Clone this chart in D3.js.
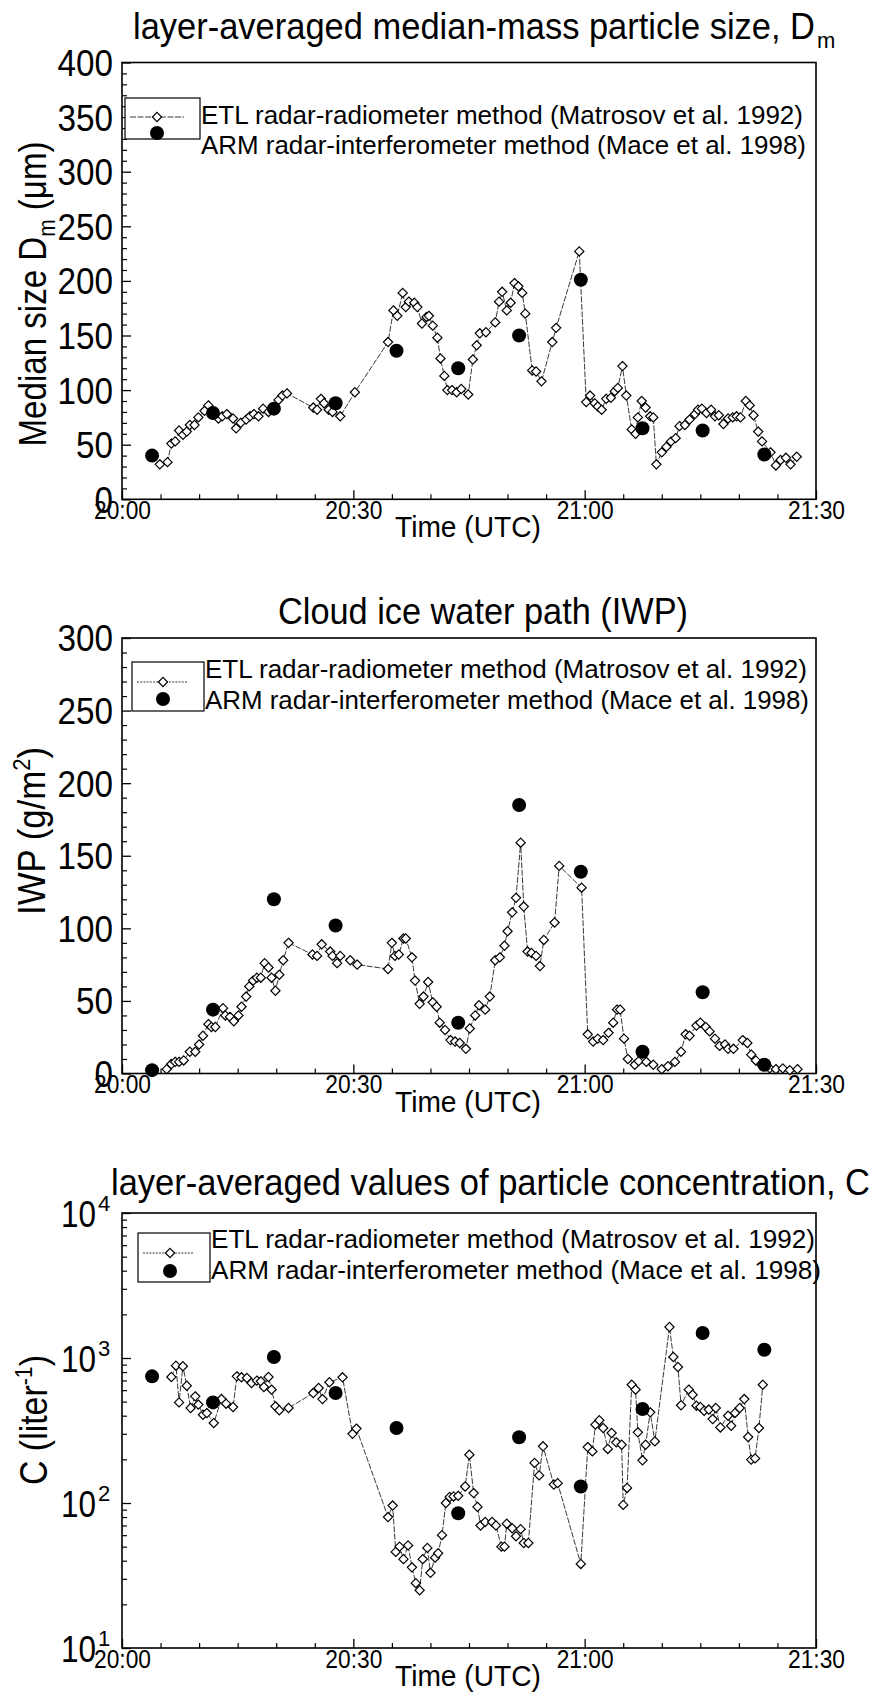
<!DOCTYPE html>
<head>
  <meta charset="utf-8">
  <script src="https://d3js.org/d3.v7.min.js"></script>
  <style>
    body { margin:0; background:#fff; }
    text { font-family: "Liberation Sans Narrow", "Liberation Sans", Arial, Helvetica, sans-serif; fill:#000; }
  </style>
</head>
<body>
<svg width="873" height="1699" id="fig"></svg>
<script>
// legend texts and time axis
var etlLabel = "ETL radar-radiometer method (Matrosov et al. 1992)";
var armLabel = "ARM radar-interferometer method (Mace et al. 1998)";
var timeTicks = [0, 30, 60, 90];          // minutes after 20:00
var timeLabels = ["20:00", "20:30", "21:00", "21:30"];

// ARM retrievals (same times in every panel)
var armTime = [3.9, 11.8, 19.7, 27.7, 35.6, 43.6, 51.5, 59.5, 67.5, 75.3, 83.3];

// panel 1: median size Dm (um)
var dmTicks = [0, 50, 100, 150, 200, 250, 300, 350, 400];
var dmTime = [4.9,5.9,6.4,6.9,7.4,7.9,8.4,8.8,9.4,9.9,10.7,11.2,12.5,13.0,13.6,14.4,14.8,15.4,16.1,16.6,17.1,17.7,18.3,19.0,20.3,20.8,21.4,
  24.8,25.3,25.8,26.2,26.8,27.3,28.3,30.2,34.5,35.2,35.7,36.4,36.8,37.2,37.9,38.3,38.9,39.5,39.8,40.3,40.9,41.3,41.8,42.2,42.8,43.4,44.0,44.9,
  45.5,46.0,46.4,47.2,48.4,48.9,49.3,49.9,50.4,50.9,51.4,51.9,52.3,53.2,53.7,54.4,55.8,56.3,59.3,60.2,60.7,61.3,61.7,62.2,62.8,63.4,63.9,64.3,
  64.9,65.4,66.1,66.6,66.9,67.4,67.9,68.5,68.9,69.3,70.0,70.6,71.2,71.8,72.3,73.0,73.6,74.3,74.7,75.2,75.8,76.4,76.9,77.4,78.0,78.6,79.2,79.7,
  80.2,80.9,81.4,81.9,82.5,83.0,84.1,84.8,85.4,86.1,86.7,87.5];
var dmEtl = [32,34,51,53,63,59,62,68,68,75,81,86,74,76,78,74,65,70,73,76,78,76,83,80,91,95,97,
  84,82,92,88,82,80,76,98,144,173,168,189,176,181,180,176,161,167,168,159,148,129,113,100,100,98,101,96,
  128,141,152,153,162,181,190,173,180,198,195,189,170,118,117,108,144,157,227,89,95,88,85,82,92,93,99,102,
  122,95,64,60,75,90,84,76,75,32,43,48,53,56,67,68,73,78,82,83,79,82,76,77,69,74,75,76,
  75,90,86,77,62,53,43,31,36,38,32,39];
var dmArm = [40, 79, 83, 88, 136, 120, 150, 201, 65, 63, 41];

// panel 2: ice water path (g/m2)
var iwpTicks = [0, 50, 100, 150, 200, 250, 300];
var iwpTime = [5.8,6.4,6.9,7.4,8.0,8.8,9.5,10.0,10.5,11.2,11.6,12.1,13.1,13.4,14.0,14.5,15.1,15.5,16.1,16.5,17.0,17.5,18.0,18.5,19.0,19.4,19.9,
  20.4,20.9,21.6,24.7,25.3,25.9,27.0,27.3,27.9,28.3,29.6,30.5,34.5,35.0,35.4,35.9,36.5,36.8,37.6,38.0,38.6,39.1,39.7,40.3,40.8,41.2,41.9,42.6,
  43.2,43.8,44.6,45.1,45.8,46.3,47.1,47.7,48.4,49.0,49.6,50.0,50.6,51.1,51.7,52.1,52.6,53.1,53.7,54.2,54.7,56.1,56.7,59.6,60.4,61.1,61.7,62.4,
  63.1,63.7,64.2,64.6,65.1,65.6,66.5,67.0,68.0,68.9,70.0,70.8,71.7,72.5,73.1,73.6,74.5,75.0,75.7,76.2,76.9,77.5,78.2,78.6,79.3,80.5,81.1,81.6,
  82.2,82.9,84.0,84.8,85.7,86.6,87.6];
var iwpEtl = [3,6.5,8,8,9,15,15,20,26,34,32,32,45,40,39,36,40,46,53,60,64,66,66,76,73,66,57,
  68,78,90,82,81,89,84,81,76,81,78,75,72,90,81,82,93,93,80,64,48,53,63,49,46,35,30,23,
  22,21,17,31,40,47,44,53,78,80,88,98,111,121,159,115,84,83,81,74,92,104,143,128,27,22,24,23,
  28,35,44,44,24,10,6,8.5,8,6,3,5,8,15,27,26,33,35,32,29,24,19,20,17,17,23,21,13,
  9,6,3.5,3,3.5,2.3,3];
var iwpArm = [2.3, 44, 120, 102, null, 35, 185, 139, 15, 56, 6];

// panel 3: particle concentration (1/liter)
var cTicks = [10, 100, 1000, 10000];
var cExp = ["1", "2", "3", "4"];
var cTime = [6.4,7.0,7.4,7.9,8.4,8.9,9.5,9.9,10.5,11.0,11.9,12.9,13.5,14.4,14.9,15.5,16.2,16.8,17.5,18.0,18.4,19.0,19.4,19.9,20.4,21.6,
  24.8,25.5,26.0,26.9,28.6,29.9,30.4,34.5,35.1,35.5,36.0,36.5,37.1,37.6,38.1,38.6,39.0,39.6,40.0,40.6,41.0,41.5,42.0,42.5,43.0,43.6,44.5,45.05,
  45.6,46.1,46.5,47.1,48.0,48.5,49.2,49.6,49.9,50.6,51.1,51.7,52.1,52.7,53.5,54.1,54.6,56.0,56.5,59.5,60.4,61.0,61.4,61.9,62.4,63.0,63.5,64.1,
  64.8,65.0,65.5,66.1,66.6,66.9,67.5,67.9,68.5,69.1,71.0,71.5,72.1,72.5,73.5,74.0,74.5,75.0,75.5,76.1,76.6,77.0,77.6,78.6,79.0,79.5,80.1,80.7,
  81.2,81.6,82.1,82.6,83.1];
var cEtl = [740,885,494,877,644,452,544,477,406,417,356,521,484,459,747,736,728,672,698,690,631,740,605,464,436,452,
  573,621,521,680,736,300,326,80,96,46,50,41,51,36,28,25,41,49,33,42,45,60,100,110,111,112,130,215,
  117,94,70,74,74,70,50,50,72,67,59,66,53,53,189,155,246,134,137,38,243,227,347,372,329,236,304,262,
  252,97,127,654,605,307,197,252,422,266,1637,1016,867,472,605,558,469,459,433,441,379,452,332,400,341,418,452,521,
  285,199,203,329,654];
var cArm = [747, 494, 1016, 573, 329, 85, 284, 130, 445, 1486, 1140];

var svg = d3.select("#fig");
var left = 122, right = 816;
var x = d3.scaleLinear().domain([0, 90]).range([left, right]);
var diamond = "M0,-4.6L4.6,0L0,4.6L-4.6,0Z";

function drawPanel(p) {
  var g = svg.append("g");
  var y = p.log
    ? d3.scaleLog().domain([p.ticks[0], p.ticks[p.ticks.length - 1]]).range([p.bottom, p.top])
    : d3.scaleLinear().domain([0, p.ticks[p.ticks.length - 1]]).range([p.bottom, p.top]);

  // minor y ticks
  g.append("g").attr("transform", "translate(" + left + ",0)")
    .call(d3.axisLeft(y).tickValues(p.minor).tickSizeInner(-5).tickSizeOuter(0).tickFormat(""))
    .call(s => s.select(".domain").remove())
    .selectAll("line").attr("stroke-width", 1.2);

  // major y ticks
  var ya = g.append("g").attr("transform", "translate(" + left + ",0)")
    .call(d3.axisLeft(y).tickValues(p.ticks).tickSizeInner(-9).tickSizeOuter(0).tickPadding(9)
      .tickFormat(p.log ? "" : d3.format("d")));
  ya.select(".domain").remove();
  ya.selectAll("line").attr("stroke-width", 1.3);
  ya.selectAll("text").attr("font-size", 36).attr("font-family", null).attr("dy", "0.36em")
    .attr("textLength", d => String(d).length * 18.5).attr("lengthAdjust", "spacingAndGlyphs");

  if (p.log) {
    p.ticks.forEach(function(v, i) {
      g.append("text").attr("x", 96).attr("y", y(v) + 14)
        .attr("text-anchor", "end").attr("font-size", 36)
        .attr("textLength", 35).attr("lengthAdjust", "spacingAndGlyphs").text("10");
      g.append("text").attr("x", 98).attr("y", y(v) - 2)
        .attr("font-size", 22).text(cExp[i]);
    });
  }

  // x ticks
  g.append("g").attr("transform", "translate(0," + p.bottom + ")")
    .call(d3.axisBottom(x).tickValues(d3.range(5, 90, 5).filter(d => d % 30)).tickSizeInner(-5).tickSizeOuter(0).tickFormat(""))
    .call(s => s.select(".domain").remove())
    .selectAll("line").attr("stroke-width", 1.2);
  var xa = g.append("g").attr("transform", "translate(0," + p.bottom + ")")
    .call(d3.axisBottom(x).tickValues(timeTicks).tickSizeInner(-9).tickSizeOuter(0).tickPadding(2)
      .tickFormat((d, i) => timeLabels[i]));
  xa.select(".domain").remove();
  xa.selectAll("line").attr("stroke-width", 1.3);
  xa.selectAll("text").attr("font-size", 25).attr("font-family", null)
    .attr("textLength", 57).attr("lengthAdjust", "spacingAndGlyphs");

  // frame
  g.append("rect").attr("x", left).attr("y", p.top)
    .attr("width", right - left).attr("height", p.bottom - p.top)
    .attr("fill", "none").attr("stroke", "#000").attr("stroke-width", 1.6);

  // ETL series
  var etl = d3.zip(p.time, p.etl);
  g.append("path").datum(etl)
    .attr("d", d3.line().x(d => x(d[0])).y(d => y(d[1])))
    .attr("fill", "none").attr("stroke", "#222").attr("stroke-width", 0.9)
    .attr("stroke-dasharray", "6,1.5");
  g.selectAll(".etl").data(etl).enter().append("path")
    .attr("class", "etl").attr("d", diamond)
    .attr("transform", d => "translate(" + x(d[0]) + "," + y(d[1]) + ")")
    .attr("fill", "#fff").attr("stroke", "#000").attr("stroke-width", 1.2);

  // ARM series
  g.selectAll(".arm").data(d3.zip(armTime, p.arm).filter(d => d[1] != null)).enter().append("circle")
    .attr("class", "arm").attr("cx", d => x(d[0])).attr("cy", d => y(d[1])).attr("r", 7)
    .attr("fill", "#000");

  // legend
  var L = p.legend;
  g.append("rect").attr("x", L.x).attr("y", L.y).attr("width", L.w).attr("height", L.h)
    .attr("fill", "#fff").attr("stroke", "#000").attr("stroke-width", 1.2);
  g.append("line").attr("x1", L.x + 5).attr("x2", L.x + L.w - 16).attr("y1", L.ly).attr("y2", L.ly)
    .attr("stroke", "#222").attr("stroke-width", 0.9).attr("stroke-dasharray", p.legendDash);
  g.append("path").attr("d", diamond).attr("transform", "translate(" + L.mx + "," + L.ly + ")")
    .attr("fill", "#fff").attr("stroke", "#000").attr("stroke-width", 1.2);
  g.append("circle").attr("cx", L.mx).attr("cy", L.cy).attr("r", 7).attr("fill", "#000");
  g.append("text").attr("x", L.x + L.w + 1).attr("y", L.t1).attr("font-size", 25)
    .attr("textLength", L.len1).attr("lengthAdjust", "spacingAndGlyphs").text(etlLabel);
  g.append("text").attr("x", L.x + L.w + 1).attr("y", L.t2).attr("font-size", 25)
    .attr("textLength", L.len2).attr("lengthAdjust", "spacingAndGlyphs").text(armLabel);

  // title (optional subscript drawn as its own text)
  g.append("text").attr("x", p.title.x).attr("y", p.title.y).attr("font-size", 36)
    .attr("textLength", p.title.len).attr("lengthAdjust", "spacingAndGlyphs").text(p.title.text);
  if (p.title.sub) {
    g.append("text").attr("x", p.title.x + p.title.len + 2).attr("y", p.title.y + 9)
      .attr("font-size", 22).text(p.title.sub);
  }

  // x label
  g.append("text").attr("x", 468).attr("y", p.bottom + 38).attr("text-anchor", "middle")
    .attr("font-size", 30).attr("textLength", 146).attr("lengthAdjust", "spacingAndGlyphs")
    .text("Time (UTC)");

  // y label
  var yl = g.append("text").attr("transform", "translate(" + p.ylab.x + "," + p.ylab.y + ") rotate(-90)")
    .attr("text-anchor", "middle").attr("font-size", 38)
    .attr("textLength", p.ylab.len).attr("lengthAdjust", "spacingAndGlyphs");
  p.ylab.parts.forEach(function(s) {
    var ts = yl.append("tspan").text(s[0]);
    if (s[1]) ts.attr("dy", s[1]);
    if (s[2]) ts.attr("font-size", s[2]);
  });
}

drawPanel({
  top: 62.5, bottom: 499.3, ticks: dmTicks, minor: d3.range(10, 400, 10).filter(d => d % 50),
  time: dmTime, etl: dmEtl, arm: dmArm, legendDash: "6,1.5",
  legend: {x: 125, y: 98, w: 75, h: 41, ly: 117, cy: 133, mx: 157, t1: 124, t2: 154, len1: 602, len2: 605},
  title: {x: 133, y: 39, len: 682, text: "layer-averaged median-mass particle size, D", sub: "m"},
  ylab: {x: 46, y: 294, len: 305, parts: [["Median size D"], ["m", 9, 24], [" (\u03bcm)", -9, 38]]}
});

drawPanel({
  top: 638, bottom: 1073.5, ticks: iwpTicks, minor: d3.range(10, 300, 10).filter(d => d % 50),
  time: iwpTime, etl: iwpEtl, arm: iwpArm, legendDash: "2,1.2",
  legend: {x: 132, y: 662, w: 72, h: 49, ly: 682, cy: 699, mx: 163, t1: 678, t2: 709, len1: 602, len2: 604},
  title: {x: 278, y: 624, len: 410, text: "Cloud ice water path (IWP)"},
  ylab: {x: 45, y: 831, len: 168, parts: [["IWP (g/m"], ["2", -15, 24], [")", 15, 38]]}
});

drawPanel({
  top: 1213, bottom: 1648, ticks: cTicks, log: true,
  minor: [10, 100, 1000].flatMap(b => d3.range(2, 10).map(k => k * b)),
  time: cTime, etl: cEtl, arm: cArm, legendDash: "2,1.2",
  legend: {x: 138, y: 1233, w: 72, h: 49, ly: 1253, cy: 1271, mx: 170, t1: 1248, t2: 1279, len1: 604, len2: 610},
  title: {x: 111, y: 1195, len: 759, text: "layer-averaged values of particle concentration, C"},
  ylab: {x: 47, y: 1420, len: 130, parts: [["C (liter"], ["-1", -15, 24], [")", 15, 38]]}
});
</script>
</body>
